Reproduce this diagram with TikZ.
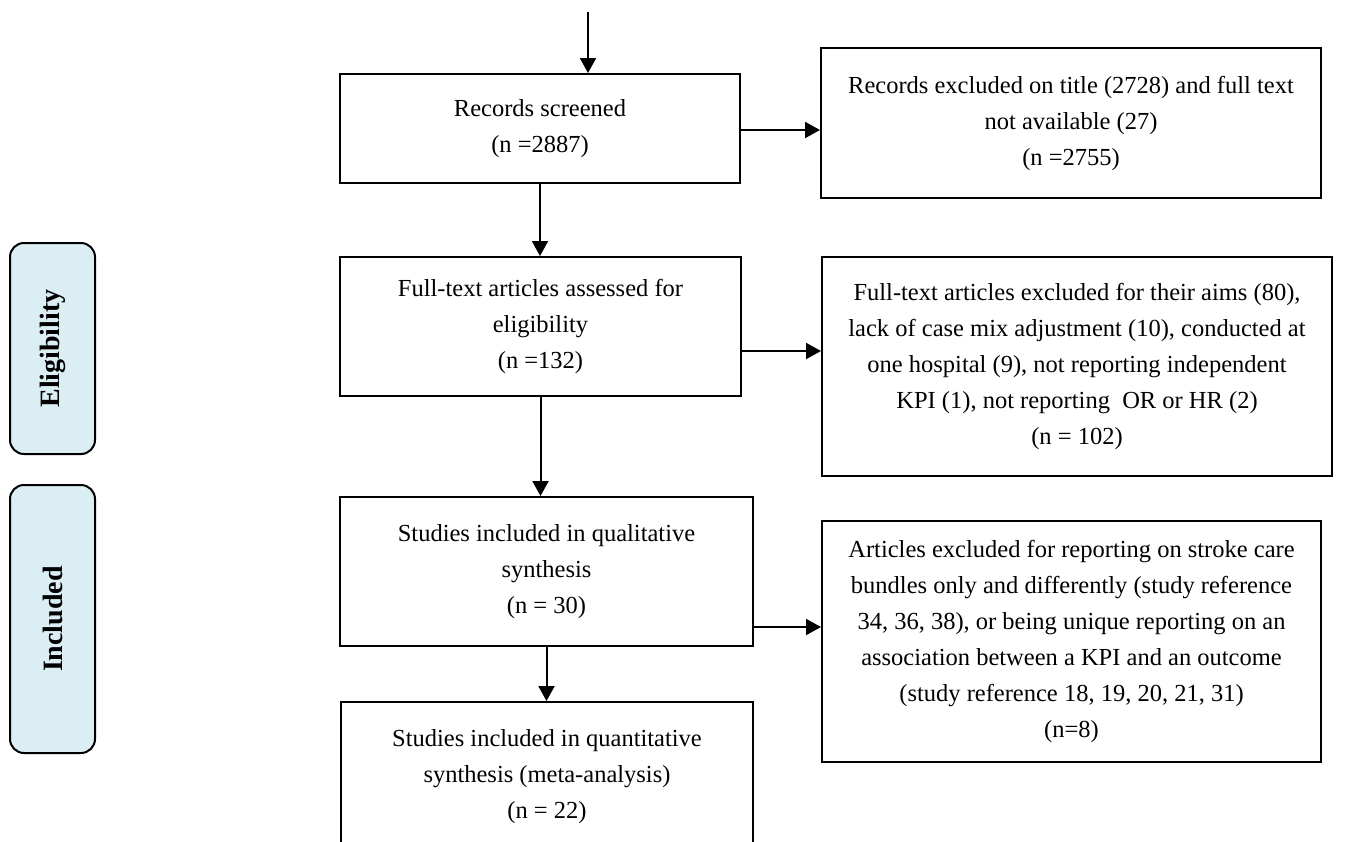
\documentclass[tikz,border=0pt]{standalone}
\usepackage{fontspec}
\setmainfont{Liberation Serif}
\usetikzlibrary{arrows.meta}
\definecolor{lblue}{HTML}{DAEEF3}
\begin{document}
\begin{tikzpicture}[x=1pt,y=-1pt,
  flowbox/.style={draw, line width=2pt, align=center, inner sep=0pt,
    font=\fontsize{24.5}{36}\selectfont},
  stagebox/.style={draw, line width=2pt, fill=lblue, rounded corners=14pt,
    inner sep=0pt, minimum width=85pt, font=\fontsize{28}{32}\selectfont\bfseries},
  flowarrow/.style={line width=2pt, -{Triangle[length=15pt,width=16pt]}}
]
\useasboundingbox (0,0) rectangle (1367,841);

% stage labels
\node[stagebox, minimum height=211pt] (elig) at (52.5,348.5) {};
\node[rotate=90, font=\fontsize{28}{32}\selectfont\bfseries] (eligtxt) at (elig.center) {Eligibility};
\node[stagebox, minimum height=268pt] (incl) at (52.5,619) {};
\node[rotate=90, font=\fontsize{28}{32}\selectfont\bfseries] (incltxt) at (incl.center) {Included};

% flow boxes
\node[flowbox, minimum width=400pt, minimum height=109pt] (b1) at (540,128.5)
  {Records screened\\(n =2887)};
\node[flowbox, minimum width=500pt, minimum height=150pt] (b2) at (1071,123)
  {Records excluded on title (2728) and full text\\not available (27)\\(n =2755)};
\node[flowbox, minimum width=401pt, minimum height=139pt] (b3) at (540.5,326.5)
  {Full-text articles assessed for\\eligibility\\(n =132)};
\node[flowbox, minimum width=510pt, minimum height=219pt] (b4) at (1077,366.5)
  {Full-text articles excluded for their aims (80),\\lack of case mix adjustment (10), conducted at\\one hospital (9), not reporting independent\\KPI (1), not reporting\ \ OR or HR (2)\\(n = 102)};
\node[flowbox, minimum width=413pt, minimum height=149pt] (b5) at (546.5,571.5)
  {Studies included in qualitative\\synthesis\\(n = 30)};
\node[flowbox, minimum width=499pt, minimum height=241pt] (b6) at (1071.5,641.5)
  {Articles excluded for reporting on stroke care\\bundles only and differently (study reference\\34, 36, 38), or being unique reporting on an\\association between a KPI and an outcome\\(study reference 18, 19, 20, 21, 31)\\(n=8)};
\node[flowbox, minimum width=412pt, minimum height=150pt] (b7) at (547,777)
  {Studies included in quantitative\\synthesis (meta-analysis)\\(n = 22)};

% connectors
\coordinate (start) at (588,12);
\draw[flowarrow] (start) -- (start |- b1.north);
\draw[flowarrow] ([yshift=-1.5pt]b1.east) -- ([yshift=-1.5pt]b1.east -| b2.west);
\draw[flowarrow] (b1.south) -- (b1.south |- b3.north);
\draw[flowarrow] ([yshift=-24.5pt]b3.east) -- ([yshift=-24.5pt]b3.east -| b4.west);
\draw[flowarrow] (b3.south) -- (b3.south |- b5.north);
\draw[flowarrow] ([yshift=-55.5pt]b5.east) -- ([yshift=-55.5pt]b5.east -| b6.west);
\draw[flowarrow] (b5.south) -- (b5.south |- b7.north);
\end{tikzpicture}
\end{document}
